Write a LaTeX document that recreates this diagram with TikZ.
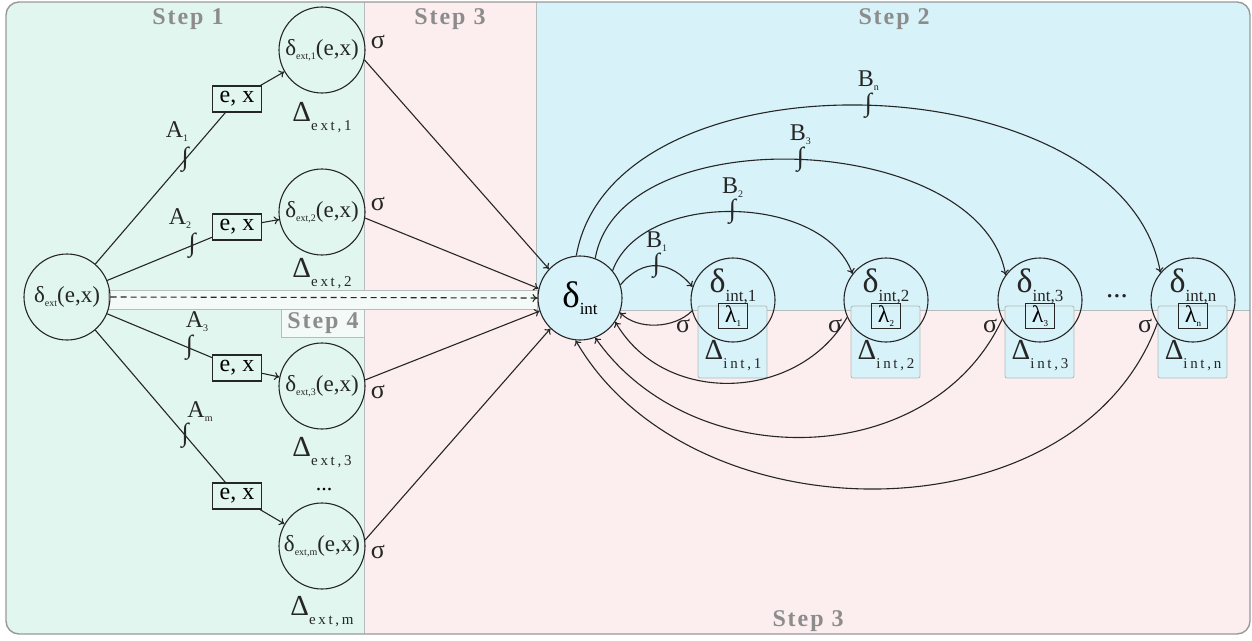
\documentclass[tikz,border=0pt]{standalone}
\usepackage{fontspec}
\setmainfont{Liberation Serif}
\usetikzlibrary{arrows.meta}

\definecolor{bggreen}{HTML}{E1F6EF}
\definecolor{bgblue}{HTML}{D7F2F8}
\definecolor{bgpink}{HTML}{FCEEEE}
\definecolor{bandfill}{HTML}{F4FAF8}
\definecolor{stepgray}{HTML}{8C8C8C}
\definecolor{regline}{HTML}{B4BCBC}
\definecolor{linec}{HTML}{262626}

% lowered small text used for subscripts: drop, size, text
\newcommand\sbx[3]{\raisebox{-#1pt}{\fontsize{#2}{#2}\selectfont #3}}
% letter-spaced subscript of the Delta labels
\newcommand\spsub[1]{\raisebox{-9pt}{\fontsize{15}{15}\selectfont\addfontfeatures{LetterSpace=18}#1}}

\tikzset{
  conn/.style={line width=1.1pt, draw=linec},
  arr/.style={conn, -{To[length=5pt,width=8pt]}},
  statec/.style={circle, draw=linec, line width=1.1pt, minimum size=86pt, inner sep=0pt},
  intc/.style={circle, draw=linec, line width=1.1pt, minimum size=84pt, inner sep=0pt},
  exbox/.style={draw=linec, line width=1.1pt, fill=bggreen, minimum width=49pt, minimum height=26pt,
    inner sep=0pt, font=\fontsize{24}{24}\selectfont},
  lambox/.style={draw=linec, line width=1.1pt, minimum width=29pt, minimum height=25pt,
    inner sep=0pt, font=\fontsize{24}{24}\selectfont},
  steplab/.style={font=\fontsize{24}{24}\selectfont\bfseries\addfontfeatures{LetterSpace=8}, text=stepgray},
  sig/.style={font=\fontsize{26}{26}\selectfont, text=linec},
  intmark/.style={font=\fontsize{26}{26}\selectfont, inner sep=0pt, text=linec},
  elab/.style={font=\fontsize{24}{24}\selectfont, inner sep=0pt, text=linec},
  dlab/.style={font=\fontsize{29}{29}\selectfont, inner sep=0pt, text=linec},
  extxt/.style={font=\fontsize{23}{23}\selectfont, inner sep=0pt, text=linec},
  inttxt/.style={font=\fontsize{34}{34}\selectfont, inner sep=0pt, text=linec},
  dbox/.style={fill=bgblue, draw=regline, line width=0.8pt, rounded corners=2pt},
}

\begin{document}
\begin{tikzpicture}[x=1pt,y=1pt]
\useasboundingbox (0,0) rectangle (1252,-640);

% coloured areas of the four steps
\begin{scope}
  \clip[rounded corners=13pt] (6,-2) rectangle (1250,-634);
  \fill[bggreen] (0,0) rectangle (1252,-640);
  \fill[bgpink] (364,0) rectangle (1252,-640);
  \fill[bgblue] (536,0) rectangle (1252,-310);
\end{scope}
\draw[regline, line width=1pt] (364,-2) -- (364,-634);
\draw[regline, line width=1pt] (536,-2) -- (536,-290);
\draw[regline, line width=0.8pt] (536,-310) -- (1250,-310);
\draw[regline, line width=1pt, fill=bandfill] (108,-290) rectangle (537,-309);
\draw[regline, line width=1pt, fill=bandfill] (281,-309) rectangle (364,-337);
\draw[gray!80, line width=1.4pt, rounded corners=13pt] (6,-2) rectangle (1250,-634);

% step titles
\node[steplab] (s1) at (188,-19) {Step 1};
\node[steplab] (s3a) at (450,-19) {Step 3};
\node[steplab] (s2) at (894,-19) {Step 2};
\node[steplab] (s4) at (323,-323) {Step 4};
\node[steplab] (s3b) at (808,-621) {Step 3};

% Delta boxes under the internal states
\foreach \cx in {733,886,1040,1193}{
  \draw[dbox] (\cx-35,-306) rectangle (\cx+34,-378);
}

% external transition states
\node[statec] (dext) at (67,-297) {};
\node[extxt] (dextt) at (dext.center) {δ\sbx{4}{10}{ext}(e,x)};
\node[statec] (e1) at (322,-50) {};
\node[extxt] (e1t) at (e1.center) {δ\sbx{4}{10}{ext,1}(e,x)};
\node[statec] (e2) at (322,-212) {};
\node[extxt] (e2t) at (e2.center) {δ\sbx{4}{10}{ext,2}(e,x)};
\node[statec] (e3) at (322,-386) {};
\node[extxt] (e3t) at (e3.center) {δ\sbx{4}{10}{ext,3}(e,x)};
\node[statec] (em) at (322,-546) {};
\node[extxt] (emt) at (em.center) {δ\sbx{4}{10}{ext,m}(e,x)};

\node[dlab] (de1) at (322,-118) {Δ\spsub{ext,1}};
\node[dlab] (de2) at (322,-274) {Δ\spsub{ext,2}};
\node[dlab] (de3) at (322,-453) {Δ\spsub{ext,3}};
\node[dlab] (dem) at (322,-612) {Δ\spsub{ext,m}};
\node[font=\fontsize{22}{22}\selectfont, inner sep=0pt] (edots) at (324,-490) {...};

% input boxes
\node[exbox] (b1) at (237,-99) {e, x};
\node[exbox] (b2) at (237,-227) {e, x};
\node[exbox] (b3) at (237,-368) {e, x};
\node[exbox] (bm) at (237,-496) {e, x};

% internal transition states
\node[intc, fill=bgblue] (dint) at (580,-298) {};
\node[font=\fontsize{37}{37}\selectfont, inner sep=0pt] (dintt) at (dint.center) {δ\sbx{7}{17}{int}};

\foreach \cx/\k in {733/1,886/2,1040/3,1193/n}{
  \node[intc] (i\k) at (\cx,-300) {};
  \node[inttxt] (i\k t) at ([yshift=14pt]i\k.center) {δ\sbx{9}{17}{int,\k}};
  \node[lambox] (l\k) at ([yshift=-16pt]i\k.center) {λ\sbx{4}{9}{\k}};
  \node[dlab] (di\k) at ([yshift=-56pt]i\k.center) {Δ\spsub{int,\k}};
}
\node[dlab] (idots) at (1117,-296) {...};

% external branches
\draw[conn] (dext) -- node[intmark, pos=.69] (m1) {∫} (b1);
\draw[conn] (dext) -- node[intmark, pos=.81] (m2) {∫} (b2);
\draw[conn] (dext) -- node[intmark, pos=.785] (m3) {∫} (b3);
\draw[conn] (dext) -- node[intmark, pos=.69] (mm) {∫} (bm);
\node[elab] (a1) at (177,-132) {A\sbx{4}{10}{1}};
\node[elab] (a2) at (180,-219) {A\sbx{4}{10}{2}};
\node[elab] (a3) at (197,-322) {A\sbx{4}{10}{3}};
\node[elab] (am) at (200,-412) {A\sbx{4}{10}{m}};
\draw[arr] (b1) -- (e1);
\draw[arr] (b2) -- (e2);
\draw[arr] (b3) -- (e3);
\draw[arr] (bm) -- (em);

% outputs of the external states
\draw[arr] (e1.-13) -- (dint.137);
\draw[arr] (e2.-8) -- (dint.167);
\draw[arr] (e3.8) -- (dint.198);
\draw[arr] (em.8) -- (dint.226);
\draw[arr, dashed, dash pattern=on 6pt off 4pt] (dext.0) -- (dint.180);
\node[sig] (se1) at (378,-42) {σ};
\node[sig] (se2) at (378,-204) {σ};
\node[sig] (se3) at (378,-392) {σ};
\node[sig] (sem) at (378,-552) {σ};

% internal branches
\draw[arr] (dint.18) .. controls +(50:35) and +(130:35) .. node[intmark, pos=.5] (n1) {∫} (i1.162);
\draw[arr] (dint.40) .. controls +(70:86) and +(110:86) .. node[intmark, pos=.5] (n2) {∫} (i2.142);
\draw[arr] (dint.69) .. controls +(80:145) and +(100:145) .. node[intmark, pos=.5] (n3) {∫} (i3.144);
\draw[arr] (dint.95) .. controls +(80:215) and +(100:215) .. node[intmark, pos=.5] (nn) {∫} (in.140);
\node[elab, anchor=south] (bl1) at ([yshift=1pt]n1.north) {B\sbx{4}{10}{1}};
\node[elab, anchor=south] (bl2) at ([yshift=1pt]n2.north) {B\sbx{4}{10}{2}};
\node[elab, anchor=south] (bl3) at ([yshift=1pt]n3.north) {B\sbx{4}{10}{3}};
\node[elab, anchor=south] (bln) at ([yshift=1pt]nn.north) {B\sbx{4}{10}{n}};

% returns to the internal transition
\draw[arr] (i1.195) .. controls +(225:25) and +(-45:25) .. (dint.340);
\draw[arr] (i2.204) .. controls +(240:98) and +(-60:98) .. (dint.326);
\draw[arr] (i3.207) .. controls +(245:168) and +(-55:168) .. (dint.291);
\draw[arr] (in.213) .. controls +(250:232) and +(-60:232) .. (dint.264);
\node[sig] (si1) at (683,-326) {σ};
\node[sig] (si2) at (835,-326) {σ};
\node[sig] (si3) at (990,-326) {σ};
\node[sig] (sin) at (1145,-326) {σ};
\end{tikzpicture}
\end{document}
